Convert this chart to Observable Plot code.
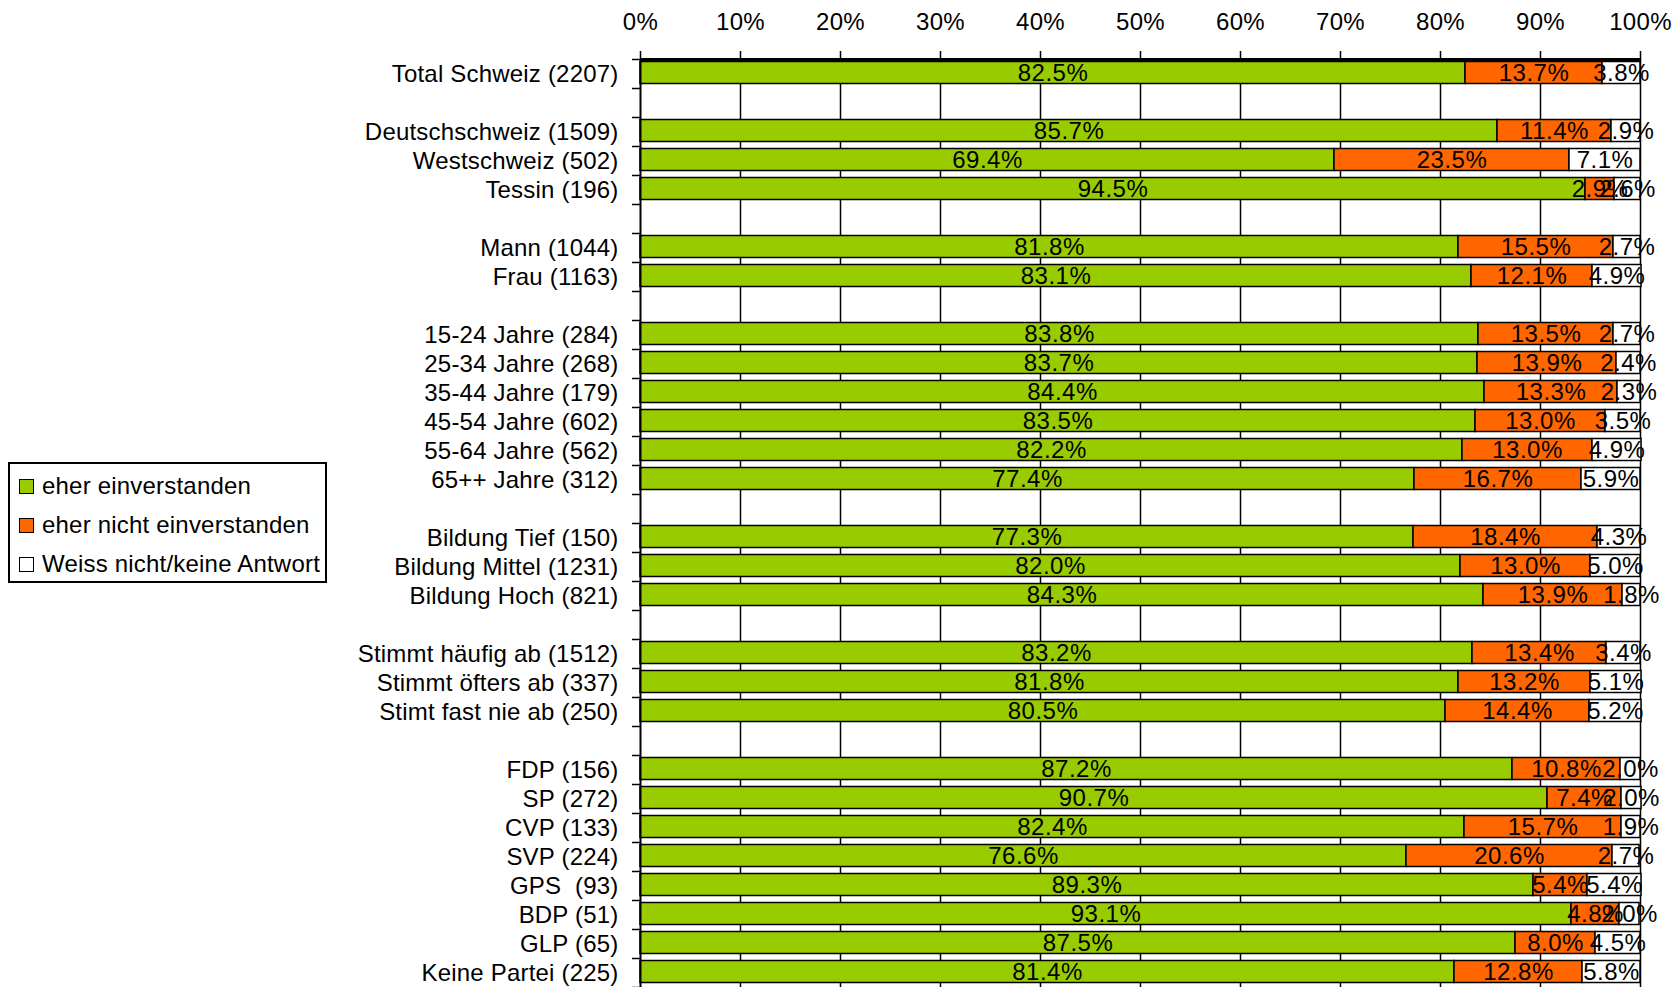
<!DOCTYPE html>
<html><head><meta charset="utf-8">
<script src="https://cdn.jsdelivr.net/npm/d3@7"></script>
<script src="https://cdn.jsdelivr.net/npm/@observablehq/plot@0.6"></script>
<style>
html,body{margin:0;padding:0;overflow:hidden;background:#fff;font-family:"Liberation Sans",Arial,sans-serif;}
#chart{position:absolute;left:0;top:0;}
#legend{position:absolute;left:8px;top:462px;width:315px;height:117px;border:2px solid #000;background:#fff;}
.item{position:absolute;left:9px;height:26px;display:flex;align-items:center;font-size:24px;letter-spacing:0.2px;color:#000;white-space:nowrap;}
.sw{width:13px;height:13px;border:1.5px solid #000;margin-right:8px;flex:none;}
g[aria-label="text"] text{letter-spacing:0.5px;}
g[aria-label="y-axis tick label"] text{letter-spacing:0.2px;}
g[aria-label="x-axis tick label"] text{letter-spacing:0.3px;}
</style></head><body>
<div id="chart"></div>
<div id="legend"></div>
<script>
const categories = [
  "Total Schweiz (2207)",
  "Deutschschweiz (1509)", "Westschweiz (502)", "Tessin (196)",
  "Mann (1044)", "Frau (1163)",
  "15-24 Jahre (284)", "25-34 Jahre (268)", "35-44 Jahre (179)", "45-54 Jahre (602)", "55-64 Jahre (562)", "65++ Jahre (312)",
  "Bildung Tief (150)", "Bildung Mittel (1231)", "Bildung Hoch (821)",
  "Stimmt häufig ab (1512)", "Stimmt öfters ab (337)", "Stimt fast nie ab (250)",
  "FDP (156)", "SP (272)", "CVP (133)", "SVP (224)", "GPS  (93)", "BDP (51)", "GLP (65)", "Keine Partei (225)"
];
const groupSizes = [1, 3, 2, 6, 3, 3, 8];
const agree    = [82.5, 85.7, 69.4, 94.5, 81.8, 83.1, 83.8, 83.7, 84.4, 83.5, 82.2, 77.4, 77.3, 82.0, 84.3, 83.2, 81.8, 80.5, 87.2, 90.7, 82.4, 76.6, 89.3, 93.1, 87.5, 81.4];
const disagree = [13.7, 11.4, 23.5, 2.9, 15.5, 12.1, 13.5, 13.9, 13.3, 13.0, 13.0, 16.7, 18.4, 13.0, 13.9, 13.4, 13.2, 14.4, 10.8, 7.4, 15.7, 20.6, 5.4, 4.8, 8.0, 12.8];
const unknown  = [3.8, 2.9, 7.1, 2.6, 2.7, 4.9, 2.7, 2.4, 2.3, 3.5, 4.9, 5.9, 4.3, 5.0, 1.8, 3.4, 5.1, 5.2, 2.0, 2.0, 1.9, 2.7, 5.4, 2.0, 4.5, 5.8];
const seriesNames = ["eher einverstanden", "eher nicht einverstanden", "Weiss nicht/keine Antwort"];
const seriesColors = ["#99CC00", "#FF6600", "#FFFFFF"];
const xTicks = [0, 10, 20, 30, 40, 50, 60, 70, 80, 90, 100];

// row index of each category, with an empty row between groups
const rowIndex = [];
let r = 0;
groupSizes.forEach((n, g) => { if (g > 0) r++; for (let k = 0; k < n; k++) { rowIndex.push(r); r++; } });
const nRows = r;
const labelAt = new Map(rowIndex.map((ri, i) => [ri + 0.5, categories[i]]));

const segs = [];
categories.forEach((cat, i) => {
  const vals = [agree[i], disagree[i], unknown[i]];
  let acc = 0;
  vals.forEach((v, s) => {
    segs.push({cat, row: rowIndex[i], series: seriesNames[s], x1: acc, x2: acc + v, value: v});
    acc += v;
  });
});

const chart = Plot.plot({
  width: 1676, height: 987,
  marginLeft: 640, marginRight: 36, marginTop: 59, marginBottom: 0,
  style: {fontFamily: '"Liberation Sans", Arial, sans-serif', fontSize: "24px", color: "#000", background: "#fff"},
  x: {domain: [0, 100]},
  y: {domain: [0, nRows], reverse: true},
  color: {domain: seriesNames, range: seriesColors},
  marks: [
    Plot.ruleX(xTicks.slice(1), {stroke: "#000", strokeWidth: 1.5}),
    Plot.rectX(segs, {x1: "x1", x2: "x2", y1: "row", y2: d => d.row + 1, fill: "series", stroke: "#000", strokeWidth: 1.5, insetTop: 2.5, insetBottom: 4.5}),
    Plot.text(segs, {x: d => (d.x1 + d.x2) / 2, y: d => d.row + 0.5, text: d => d.value.toFixed(1) + "%", fontSize: 24, fill: "#000", dy: -1}),
    Plot.ruleX([0], {stroke: "#000", strokeWidth: 2}),
    Plot.ruleY([0], {stroke: "#000", strokeWidth: 3}),
    Plot.axisX({anchor: "top", ticks: xTicks, tickFormat: d => d + "%", tickSize: 9, tickPadding: 21, fontSize: 24, label: null, stroke: "#000", strokeWidth: 1.5}),
    Plot.axisY({ticks: d3.range(nRows + 1), tickSize: 8, tickFormat: () => "", label: null, strokeWidth: 1.5}),
    Plot.axisY({ticks: [...labelAt.keys()], tickSize: 0, tickPadding: 22, tickFormat: v => labelAt.get(v), label: null, fontSize: 24})
  ]
});
document.getElementById("chart").appendChild(chart);

const legend = document.getElementById("legend");
const itemTops = [9, 48, 87];
seriesNames.forEach((name, i) => {
  const it = document.createElement("div");
  it.className = "item";
  it.style.top = itemTops[i] + "px";
  const sw = document.createElement("div");
  sw.className = "sw";
  sw.style.background = seriesColors[i];
  const tx = document.createElement("span");
  tx.textContent = name;
  it.appendChild(sw); it.appendChild(tx);
  legend.appendChild(it);
});
</script>
</body></html>
